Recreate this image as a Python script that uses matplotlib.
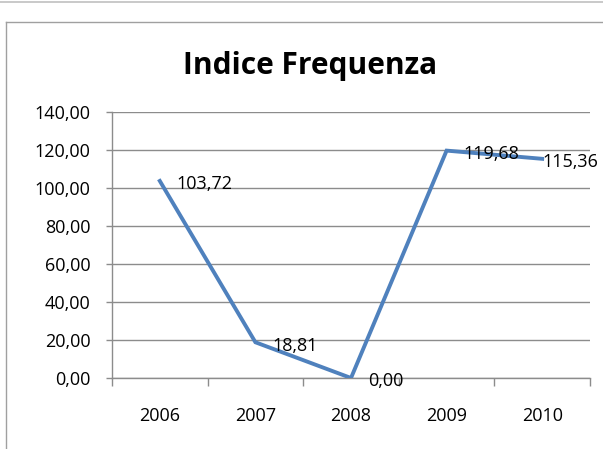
import matplotlib.pyplot as plt
from matplotlib.lines import Line2D
from matplotlib.ticker import FixedLocator, NullFormatter

years = ['2006', '2007', '2008', '2009', '2010']
values = [103.72, 18.81, 0.00, 119.68, 115.36]
yticks = [0, 20, 40, 60, 80, 100, 120, 140]


def it_fmt(v):
    return f'{v:.2f}'.replace('.', ',')


plt.rcParams['font.family'] = ['Open Sans', 'DejaVu Sans']

W, H = 603, 449
fs = 13
fig = plt.figure(figsize=(W / 100, H / 100), dpi=100)
fig.patch.set_facecolor('white')

# outer frame lines (chart box cut by the screenshot)
fig.add_artist(Line2D([0, 1], [1 - 1.5 / H, 1 - 1.5 / H], color='#c0c0c0', lw=1.2))
fig.add_artist(Line2D([5.5 / W, 1], [1 - 21.5 / H, 1 - 21.5 / H], color='#a0a0a0', lw=1.0))
fig.add_artist(Line2D([5.5 / W, 5.5 / W], [0, 1 - 21.5 / H], color='#a0a0a0', lw=1.0))

ax = fig.add_axes([112 / W, (H - 378) / H, (590 - 112) / W, (378 - 112) / H])

x = list(range(len(years)))
ax.plot(x, values, color='#4f81bd', lw=2.8, solid_joinstyle='miter', zorder=3)

for xi, v in zip(x, values):
    # last label is pushed back inside the plot, like Excel does
    dx = 12 if xi < len(years) - 1 else 0.5
    ax.annotate(it_fmt(v), (xi, v), xytext=(dx, -2.5), textcoords='offset points',
                ha='left', va='center', fontsize=fs, color='black',
                annotation_clip=False, zorder=4)

ax.set_xlim(-0.5, len(years) - 0.5)
ax.set_ylim(0, 140)

ax.set_yticks(yticks)
ax.set_yticklabels([it_fmt(v) for v in yticks])
ax.yaxis.grid(True, color='#8c8c8c', lw=1.0)
ax.set_axisbelow(True)

ax.xaxis.set_major_locator(FixedLocator([i - 0.5 for i in range(len(years) + 1)]))
ax.xaxis.set_major_formatter(NullFormatter())
ax.set_xticks(x, minor=True)
ax.set_xticklabels(years, minor=True)
ax.tick_params(axis='x', which='major', length=5.5, color='#8c8c8c', width=1)
ax.tick_params(axis='x', which='minor', length=0, pad=21, labelsize=fs)
ax.tick_params(axis='y', length=4.5, color='#8c8c8c', width=1, pad=11, labelsize=fs)

for s in ['top', 'right']:
    ax.spines[s].set_visible(False)
for s in ['left', 'bottom']:
    ax.spines[s].set_color('#8c8c8c')
    ax.spines[s].set_linewidth(1.0)

fig.text(310 / W, 1 - 74 / H, 'Indice Frequenza', ha='center', va='baseline',
         fontsize=21.5, fontweight='bold')

fig.savefig('out.png', dpi=100)
